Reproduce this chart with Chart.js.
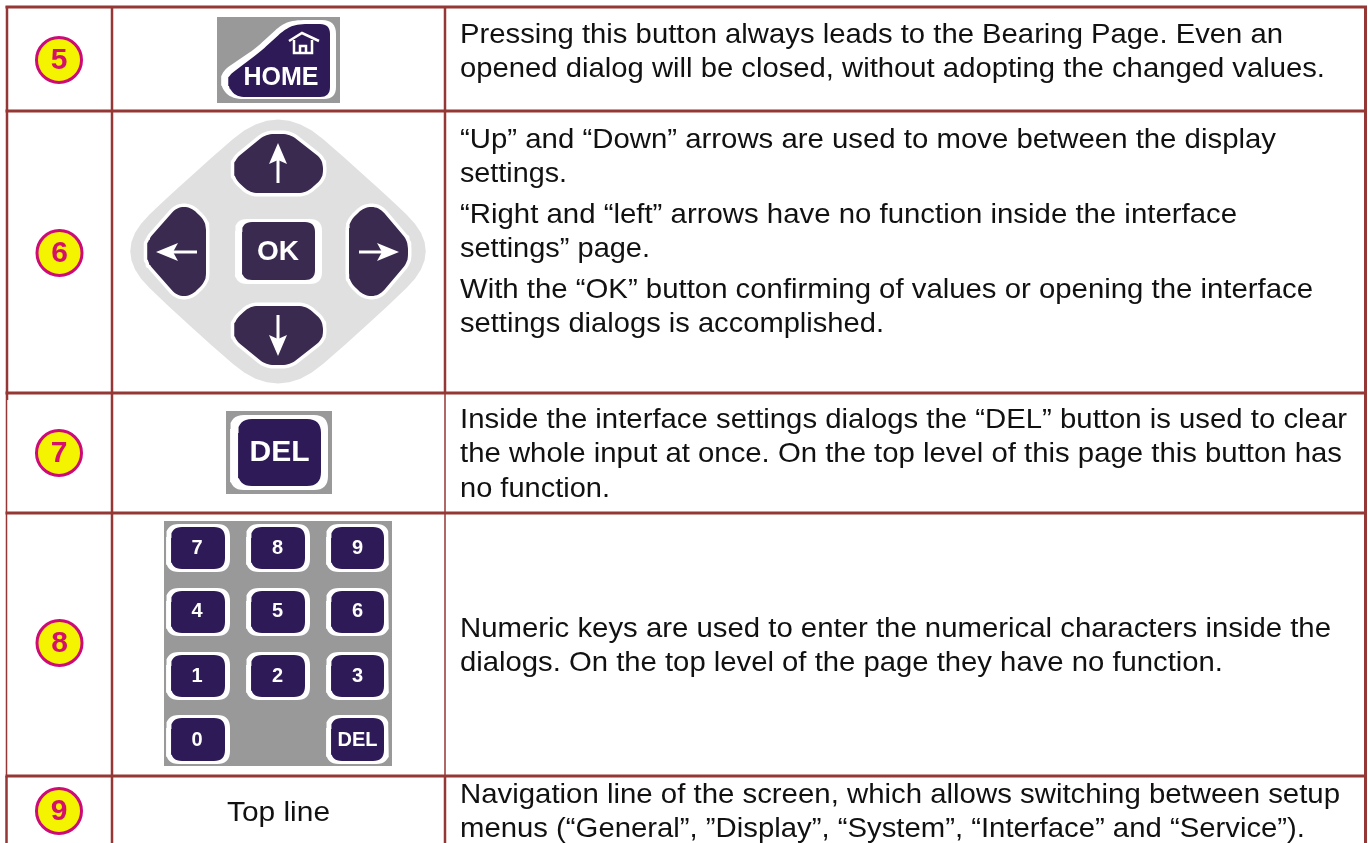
<!DOCTYPE html>
<html>
<head>
<meta charset="utf-8">
<title>Button table</title>
<script src="https://cdn.jsdelivr.net/npm/chart.js@4"></script>
<style>
html, body { margin: 0; padding: 0; background: #fff; }
canvas { display: block; }
</style>
</head>
<body>
<canvas id="tabla" width="1368" height="843"></canvas>
<script>
// Table rules: [x1, y1, x2, y2, width]
const rules = [
    [5.5, 7, 1367, 7, 3], [5.5, 111, 1367, 111, 3], [5.5, 393, 1367, 393, 3],
    [5.5, 513, 1367, 513, 3], [5.5, 776, 1367, 776, 3],
    [7, 6, 7, 400, 2.5], [6.5, 400, 6.5, 776, 1.5], [6.5, 776, 6.5, 843, 2.5],
    [112, 6, 112, 843, 2.5],
    [445, 6, 445, 393, 2.5], [445, 393, 445, 776, 1.5], [445, 776, 445, 843, 2.5],
    [1365.5, 6, 1365.5, 843, 3]
];

// Numbered badges
const badgeLabels = ['5', '6', '7', '8', '9'];
const badgeX = [59, 59.5, 59, 59.5, 59];
const badgeY = [60, 253, 453, 643, 811];

// Description text: [text, x, baseline, end x, font px]
const textLines = [
    ['Pressing this button always leads to the Bearing Page. Even an', 460, 43, 1283, 27.5],
    ['opened dialog will be closed, without adopting the changed values.', 460, 77, 1325, 27.5],
    ['“Up” and “Down” arrows are used to move between the display', 460, 148, 1276, 27.5],
    ['settings.', 460, 182, 567, 27.5],
    ['“Right and “left” arrows have no function inside the interface', 460, 223, 1237, 27.5],
    ['settings” page.', 460, 257, 650, 27.5],
    ['With the “OK” button confirming of values or opening the interface', 460, 298, 1313, 27.5],
    ['settings dialogs is accomplished.', 460, 332, 884, 27.5],
    ['Inside the interface settings dialogs the “DEL” button is used to clear', 460, 428, 1347, 27.5],
    ['the whole input at once. On the top level of this page this button has', 460, 462, 1342, 27.5],
    ['no function.', 460, 497, 610, 27.5],
    ['Numeric keys are used to enter the numerical characters inside the', 460, 637, 1331, 27.5],
    ['dialogs. On the top level of the page they have no function.', 460, 671, 1223, 27.5],
    ['Navigation line of the screen, which allows switching between setup', 460, 803, 1340, 27.5],
    ['menus (“General”, ”Display”, “System”, “Interface” and “Service”).', 460, 837, 1305, 27.5],
    ['Top line', 227, 821, 330, 28.5]
];

// Button captions: [text, x, y, font px]
const captions = [
    ['HOME', 281, 77, 25], ['OK', 278, 251, 28], ['DEL', 279.5, 452, 30],
    ['7', 197, 547, 20], ['8', 277.5, 547, 20], ['9', 357.5, 547, 20],
    ['4', 197, 610, 20], ['5', 277.5, 610, 20], ['6', 357.5, 610, 20],
    ['1', 197, 675, 20], ['2', 277.5, 675, 20], ['3', 357.5, 675, 20],
    ['0', 197, 739, 20], ['DEL', 357.5, 739, 20]
];

// Button outlines: corners as [x, y, corner radius]
const homeOuter = [[293, 20, 14], [336, 20, 14], [336, 99, 12], [232, 99, 12], [221, 88, 8], [221, 72, 10], [256, 48, 8], [281, 25, 8]];
const homeInner = [[296, 24, 12], [330, 24, 10], [330, 97, 10], [236, 97, 10], [228, 86, 6], [228, 76, 8], [260, 52, 8], [284, 30, 8]];
const padShape = [[278, 100, 100], [368, 178, 100], [445, 251, 100], [368, 325, 100], [278, 403, 100], [188, 325, 100], [111, 251, 100], [188, 178, 100]];
const keyUp = [[266, 134, 8], [290, 134, 8], [323, 160, 8], [323, 178, 8], [306, 193, 8], [250, 193, 8], [234, 178, 8], [234, 160, 8]];
const keyDown = [[250, 306, 8], [306, 306, 8], [323, 321, 8], [323, 339, 8], [290, 365, 8], [266, 365, 8], [234, 339, 8], [234, 321, 8]];
const keyLeft = [[206, 222, 8], [206, 281, 8], [191, 296, 8], [177, 296, 8], [147, 262, 8], [147, 241, 8], [177, 207, 8], [191, 207, 8]];
const keyRight = [[349, 222, 8], [364, 207, 8], [379, 207, 8], [408, 241, 8], [408, 262, 8], [379, 296, 8], [364, 296, 8], [349, 281, 8]];

// Rectangles: [x0, y0, x1, y1, radius]
const grayPanels = [[217, 17, 340, 103, 0], [226, 411, 332, 494, 0], [164, 521, 392, 766, 0]];
const okHalo = [235, 219, 322, 284, 12];
const okKey = [242, 222, 315, 280, 10];
const delHalo = [230, 415, 328, 490, 14];
const delKey = [238, 419, 321, 486, 14];
const keypadColumns = [[171, 225], [251, 305], [331, 384]];
const keypadRows = [[527, 569, true, true, true], [591, 633, true, true, true], [655, 697, true, true, true], [718, 761, true, false, true]];

// Arrow shafts and heads
const arrowShafts = [[278, 183, 278, 158], [278, 315, 278, 342], [197, 252, 170, 252], [359, 252, 386, 252]];
const arrowHeads = [
    [[278, 143, 0], [287, 164, 0], [278, 160, 0], [269, 164, 0]],
    [[278, 356, 0], [269, 335, 0], [278, 339, 0], [287, 335, 0]],
    [[156, 252, 0], [178, 243, 0], [173, 252, 0], [178, 261, 0]],
    [[399, 252, 0], [377, 243, 0], [382, 252, 0], [377, 261, 0]]
];

// House icon strokes
const houseStrokes = [
    [[289, 41], [302, 33], [319, 41]],
    [[294, 40], [294, 53], [312, 53], [312, 40]],
    [[300, 53], [300, 46], [306, 46], [306, 53]]
];

const colorRegla = '#953735';
const colorOscuro = '#2E1A57';
const colorPad = '#3A2A50';

// Corners with radius turned into points for a closed outline
function contorno(esquinas) {
    const puntos = [];
    const n = esquinas.length;
    esquinas.forEach((v, i) => {
        const a = esquinas[(i + n - 1) % n];
        const b = esquinas[(i + 1) % n];
        const r = v[2];
        if (!r) {
            puntos.push({ x: v[0], y: v[1] });
            return;
        }
        const la = Math.hypot(a[0] - v[0], a[1] - v[1]);
        const lb = Math.hypot(b[0] - v[0], b[1] - v[1]);
        const ra = Math.min(r, la / 2);
        const rb = Math.min(r, lb / 2);
        const p0 = [v[0] + (a[0] - v[0]) * ra / la, v[1] + (a[1] - v[1]) * ra / la];
        const p1 = [v[0] + (b[0] - v[0]) * rb / lb, v[1] + (b[1] - v[1]) * rb / lb];
        for (let k = 0; k <= 8; k++) {
            const t = k / 8;
            puntos.push({
                x: (1 - t) * (1 - t) * p0[0] + 2 * t * (1 - t) * v[0] + t * t * p1[0],
                y: (1 - t) * (1 - t) * p0[1] + 2 * t * (1 - t) * v[1] + t * t * p1[1]
            });
        }
    });
    puntos.push(puntos[0]);
    return puntos;
}

function caja(r) {
    return [[r[0], r[1], r[4]], [r[2], r[1], r[4]], [r[2], r[3], r[4]], [r[0], r[3], r[4]]];
}

function forma(esquinas, color) {
    return {
        data: contorno(esquinas), backgroundColor: color, borderColor: color, borderWidth: 0,
        fill: 'shape', pointRadius: 0, tension: 0, borderJoinStyle: 'round'
    };
}

function linea(puntos, color, ancho) {
    return {
        data: puntos, borderColor: color, borderWidth: ancho, fill: false,
        pointRadius: 0, tension: 0, borderCapStyle: 'butt'
    };
}

const conjuntos = [];

// Button pictures
grayPanels.forEach(p => conjuntos.push(forma(caja(p), '#999999')));
conjuntos.push(forma(homeOuter, '#FFFFFF'), forma(homeInner, colorOscuro));
conjuntos.push(forma(padShape, '#E0E0E0'));
[keyUp, keyDown, keyLeft, keyRight].forEach(k => {
    const halo = forma(k, '#FFFFFF');
    halo.borderWidth = 7;
    conjuntos.push(halo, forma(k, colorPad));
});
conjuntos.push(forma(caja(okHalo), '#FFFFFF'), forma(caja(okKey), colorPad));
conjuntos.push(forma(caja(delHalo), '#FFFFFF'), forma(caja(delKey), colorOscuro));
keypadRows.forEach(fila => {
    keypadColumns.forEach((col, i) => {
        if (!fila[2 + i]) return;
        conjuntos.push(forma(caja([col[0] - 5, fila[0] - 3, col[1] + 5, fila[1] + 3, 13]), '#FFFFFF'));
        conjuntos.push(forma(caja([col[0], fila[0], col[1], fila[1], 11]), colorOscuro));
    });
});
arrowShafts.forEach(a => conjuntos.push(linea([{ x: a[0], y: a[1] }, { x: a[2], y: a[3] }], '#FFFFFF', 3)));
arrowHeads.forEach(h => conjuntos.push(forma(h, '#FFFFFF')));
houseStrokes.forEach(s => conjuntos.push(linea(s.map(p => ({ x: p[0], y: p[1] })), '#FFFFFF', 2.5)));

// Table rules
rules.forEach(r => conjuntos.push(linea([{ x: r[0], y: r[1] }, { x: r[2], y: r[3] }], colorRegla, r[4])));

// Badges
conjuntos.push({
    data: badgeX.map((x, i) => ({ x: x, y: badgeY[i] })),
    showLine: false, pointRadius: 22.5, pointBorderWidth: 3,
    pointBackgroundColor: '#F4F400', pointBorderColor: '#CC0A78'
});

// Later datasets paint on top
conjuntos.forEach((d, i) => {
    d.order = -i;
    d.clip = false;
});

// Text goes through the same scales as the marks
const textos = {
    id: 'textos',
    afterDatasetsDraw(chart) {
        const ctx = chart.ctx;
        const sx = chart.scales.x;
        const sy = chart.scales.y;
        ctx.save();
        ctx.textBaseline = 'alphabetic';
        ctx.textAlign = 'left';
        ctx.fillStyle = '#111111';
        // The source text is a little wider than the font, so each line is stretched to its end x
        textLines.forEach(l => {
            ctx.font = l[4] + 'px "Liberation Sans"';
            const ancho = ctx.measureText(l[0]).width;
            ctx.save();
            ctx.translate(sx.getPixelForValue(l[1]), sy.getPixelForValue(l[2]));
            ctx.scale((l[3] - l[1]) / ancho, 1);
            ctx.fillText(l[0], 0, 0);
            ctx.restore();
        });
        ctx.textAlign = 'center';
        ctx.textBaseline = 'middle';
        ctx.fillStyle = '#FFFFFF';
        captions.forEach(c => {
            ctx.font = 'bold ' + c[3] + 'px "Liberation Sans"';
            ctx.fillText(c[0], sx.getPixelForValue(c[1]), sy.getPixelForValue(c[2]) + 1);
        });
        ctx.fillStyle = '#D4106A';
        ctx.font = 'bold 30px "Liberation Sans"';
        badgeLabels.forEach((b, i) => {
            ctx.fillText(b, sx.getPixelForValue(badgeX[i]), sy.getPixelForValue(badgeY[i]) + 1);
        });
        ctx.restore();
    }
};

new Chart(document.getElementById('tabla').getContext('2d'), {
    type: 'line',
    data: { datasets: conjuntos },
    options: {
        responsive: false,
        animation: false,
        events: [],
        layout: { padding: 0, autoPadding: false },
        plugins: { legend: { display: false }, tooltip: { enabled: false }, title: { display: false } },
        scales: {
            x: { type: 'linear', min: 0, max: 1368, display: false },
            y: { type: 'linear', min: 0, max: 843, reverse: true, display: false }
        }
    },
    plugins: [textos]
});
</script>
</body>
</html>
